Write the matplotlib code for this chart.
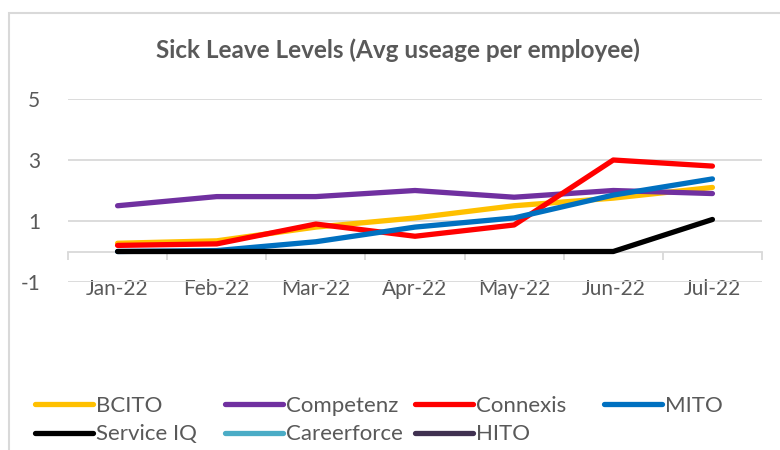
import numpy as np
import matplotlib
matplotlib.use("Agg")
import matplotlib.pyplot as plt
from matplotlib.patches import Rectangle

plt.rcParams['font.family'] = ['Lato', 'DejaVu Sans']
plt.rcParams['axes.unicode_minus'] = False

# data
months = ['Jan-22', 'Feb-22', 'Mar-22', 'Apr-22', 'May-22', 'Jun-22', 'Jul-22']
bcito = [0.27, 0.35, 0.8, 1.1, 1.5, 1.75, 2.1]
competenz = [1.5, 1.8, 1.8, 2.0, 1.78, 2.0, 1.9]
connexis = [0.2, 0.25, 0.9, 0.5, 0.87, 3.0, 2.8]
mito = [0.0, 0.03, 0.32, 0.8, 1.1, 1.85, 2.38]
service_iq = [0.0, 0.0, 0.0, 0.0, 0.0, 0.0, 1.05]
careerforce = [np.nan] * 7
hito = [np.nan] * 7

series = [
    ('BCITO', bcito, '#FFC000'),
    ('Competenz', competenz, '#7030A0'),
    ('Connexis', connexis, '#FF0000'),
    ('MITO', mito, '#0070C0'),
    ('Service IQ', service_iq, '#000000'),
    ('Careerforce', careerforce, '#4BACC6'),
    ('HITO', hito, '#403151'),
]

W, H = 780, 450
fig = plt.figure(figsize=(7.8, 4.5), dpi=100)
ax = fig.add_axes([68 / W, 1 - 282 / H, (762 - 68) / W, (282 - 99) / H])

# chart area frame
fig.patches.append(Rectangle((9 / W, -0.1), 1.2, 1 - 13 / H + 0.1, transform=fig.transFigure,
                             fill=False, edgecolor='#D9D9D9', linewidth=1.5, zorder=0))

x = np.arange(len(months))
lines = []
for name, vals, col in series:
    ln, = ax.plot(x, vals, color=col, linewidth=3.8, solid_capstyle='round',
                  solid_joinstyle='round', label=name, zorder=3)
    lines.append(ln)

ax.set_xlim(-0.5, len(months) - 0.5)
ax.set_ylim(-1, 5)
ax.set_yticks([-1, 1, 3, 5])
ax.yaxis.grid(True, color='#D9D9D9', linewidth=1.3)
ax.set_axisbelow(True)
for s in ['top', 'right', 'left']:
    ax.spines[s].set_visible(False)
ax.spines['bottom'].set_position(('data', 0))
ax.spines['bottom'].set_color('#D9D9D9')
ax.spines['bottom'].set_linewidth(1.3)
ax.tick_params(axis='y', length=0, labelsize=15, labelcolor='#595959', pad=20)

# ticks between categories, labels at category centres
ax.set_xticks(np.arange(-0.5, len(months)), [''] * (len(months) + 1))
ax.tick_params(axis='x', which='major', direction='out', length=6,
               color='#D9D9D9', width=1.3)
ax.set_xticks(x, months, minor=True)
ax.tick_params(axis='x', which='minor', length=0, labelsize=15,
               labelcolor='#595959', pad=20)

fig.text(398 / W, 1 - 50 / H, 'Sick Leave Levels (Avg useage per employee)',
         ha='center', va='center', fontsize=17.5, fontweight='bold', color='#595959')

# legend laid out in fixed-width columns, row by row
col_x = [35, 225, 415, 604]
for c, cx in enumerate(col_x):
    hs = lines[c::4]
    fig.legend(handles=hs, loc='upper left', bbox_to_anchor=(cx / W, 1 - 396 / H),
               frameon=False, fontsize=16, labelcolor='#595959',
               handlelength=2.6, handletextpad=0.15, labelspacing=0.38,
               borderaxespad=0, borderpad=0)

fig.savefig('out.png', dpi=100)
